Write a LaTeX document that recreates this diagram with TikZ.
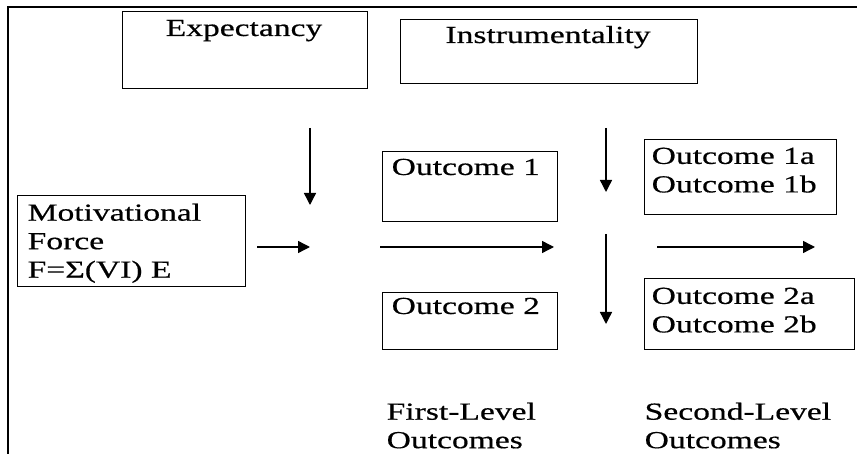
\documentclass[tikz,border=0pt]{standalone}
\usepackage{fontspec}
\setmainfont{Liberation Serif}[FakeStretch=1.37, FakeBold=0.5]
\usetikzlibrary{arrows.meta}

\begin{document}
\begin{tikzpicture}[x=1pt, y=-1pt, line width=1.4pt,
		box/.style={draw, anchor=north west, inner sep=0pt},
		lbl/.style={inner sep=0pt, font=\fontsize{24.5}{28.5}\selectfont},
		arr/.style={-{Triangle[length=12pt,width=12pt]}}]
	
	\useasboundingbox (0,0) rectangle (857,454);
	\draw[line width=2pt] (8,454) -- (8,7) -- (857,7);
	
	% boxes
	\node[box, minimum width=245pt, minimum height=77pt] (expbox) at (122,11) {};
	\node[box, minimum width=297pt, minimum height=64pt] (insbox) at (400,19) {};
	\node[box, minimum width=228pt, minimum height=91pt] (motbox) at (17,195) {};
	\node[box, minimum width=175pt, minimum height=70pt] (outa) at (382,151) {};
	\node[box, minimum width=175pt, minimum height=57pt] (outb) at (382,292) {};
	\node[box, minimum width=192pt, minimum height=75pt] (outaa) at (644,139) {};
	\node[box, minimum width=210pt, minimum height=71pt] (outbb) at (644,278) {};
	
	% texts
	\node[lbl, anchor=base] (exp) at (244,36) {Expectancy};
	\node[lbl, anchor=base] (ins) at (548,43) {Instrumentality};
	\node[lbl, anchor=base west] (outatxt) at (391,175) {Outcome 1};
	\node[lbl, anchor=base west] (outbtxt) at (391,314) {Outcome 2};
	\node[lbl, anchor=north west, align=left] (outaatxt) at (651,147) {Outcome 1a\\Outcome 1b};
	\node[lbl, anchor=north west, align=left] (outbbtxt) at (651,287) {Outcome 2a\\Outcome 2b};
	\node[lbl, anchor=north west, align=left] (mottxt) at (27,203) {Motivational\\Force\\F=Σ(VI) E};
	\node[lbl, anchor=north west, align=left] (first) at (386,402) {First-Level\\Outcomes};
	\node[lbl, anchor=north west, align=left] (second) at (644,402) {Second-Level\\Outcomes};
	
	% arrows
	\coordinate (ea) at (310,128); \coordinate (eb) at (310,205);
	\coordinate (ia) at (606,128); \coordinate (ib) at (606,192);
	\coordinate (ic) at (606,234); \coordinate (id) at (606,324);
	\coordinate (ma) at (257,247); \coordinate (mb) at (310,247);
	\coordinate (fa) at (380,247); \coordinate (fb) at (554,247);
	\coordinate (sa) at (657,247); \coordinate (sb) at (815,247);
	
	\draw[arr] (ea) -- (eb);
	\draw[arr] (ia) -- (ib);
	\draw[arr] (ic) -- (id);
	\draw[arr] (ma) -- (mb);
	\draw[arr] (fa) -- (fb);
	\draw[arr] (sa) -- (sb);
	
\end{tikzpicture}
\end{document}
